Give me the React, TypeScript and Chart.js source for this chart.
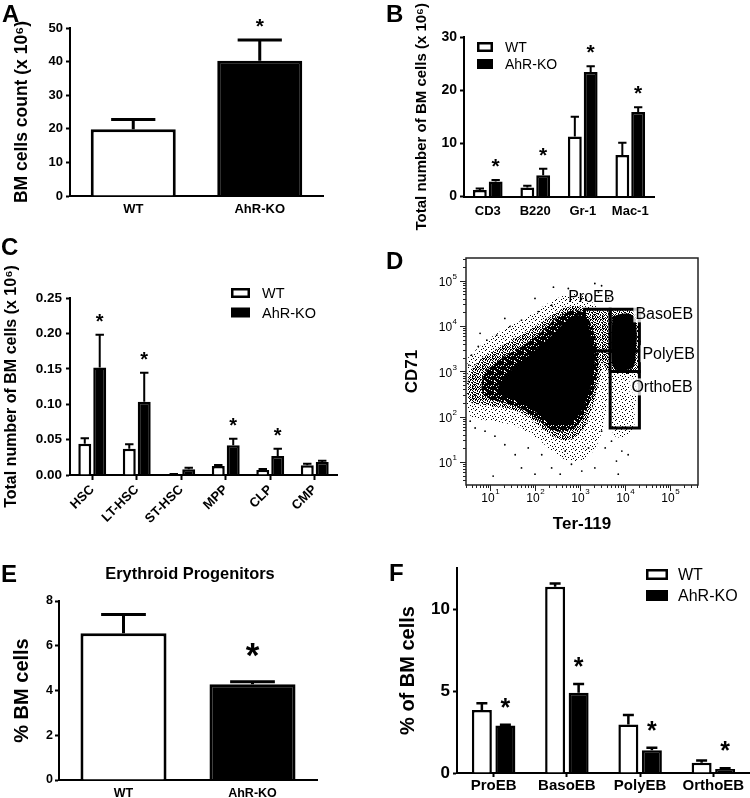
import React, { useEffect, useRef } from 'react';
import { Chart, registerables } from 'chart.js';

Chart.register(...registerables);

const FONT = '"Liberation Sans", Arial, Helvetica, sans-serif';
Chart.defaults.font.family = FONT;
Chart.defaults.color = '#000';

// ---------------- Panel A ----------------
const catsA = ['WT', 'AhR-KO'];
const meanA = [19.9, 40.25];
const errTopA = [22.8, 46.4];
const sigA = [false, true];
const ticksA = [0, 10, 20, 30, 40, 50];

// ---------------- Panel B ----------------
const catsB = ['CD3', 'B220', 'Gr-1', 'Mac-1'];
const wtB = [1.2, 1.7, 11.3, 7.8];
const wtErrTopB = [1.5, 2.0, 15.0, 10.1];
const koB = [2.8, 4.0, 23.4, 15.9];
const koErrTopB = [3.1, 5.2, 24.5, 16.8];
const sigB = [true, true, true, true];
const ticksB = [0, 10, 20, 30];

// ---------------- Panel C ----------------
const catsC = ['HSC', 'LT-HSC', 'ST-HSC', 'MPP', 'CLP', 'CMP'];
const wtC = [0.0442, 0.037, 0.001, 0.0127, 0.007, 0.0137];
const wtErrTopC = [0.0518, 0.0433, 0.0015, 0.014, 0.0085, 0.016];
const koC = [0.152, 0.1035, 0.008, 0.042, 0.0268, 0.0184];
const koErrTopC = [0.198, 0.1445, 0.0103, 0.0513, 0.037, 0.0202];
const sigC = [true, true, false, true, true, false];
const ticksC = [0, 0.05, 0.1, 0.15, 0.2, 0.25];

// ---------------- Panel D (log10 units) ----------------
const decadesD = [1, 2, 3, 4, 5];
const rangeXD = [0.467, 5.622];
const rangeYD = [0.492, 5.503];
const gateNames = ['ProEB', 'BasoEB', 'PolyEB', 'OrthoEB'];
const gateX = [[3.1, 3.67], [3.67, 4.32], [3.67, 4.32], [3.67, 4.32]];
const gateY = [[3.45, 4.37], [3.45, 4.37], [3.0, 3.45], [1.75, 3.0]];
const mainCoreD = [[1.2, 2.72], [1.5, 3.05], [1.95, 3.42], [2.4, 3.82], [2.72, 4.13], [2.98, 4.24], [3.15, 4.1], [3.25, 3.74], [3.33, 3.36], [3.28, 2.85], [3.15, 2.4], [2.96, 2.02], [2.7, 1.84], [2.41, 1.84], [2.1, 2.04], [1.72, 2.3], [1.4, 2.42], [1.18, 2.54], [1.2, 2.72]];
const denseCloudD = [[0.89, 3.0], [1.26, 3.29], [1.7, 3.55], [2.15, 3.88], [2.52, 4.21], [2.89, 4.35], [3.12, 4.25], [3.3, 3.88], [3.4, 3.36], [3.37, 2.85], [3.22, 2.34], [3.04, 1.93], [2.78, 1.71], [2.44, 1.69], [2.11, 1.9], [1.74, 2.15], [1.33, 2.3], [0.96, 2.41], [0.81, 2.63], [0.89, 3.0]];
const midCloudD = [[0.52, 2.92], [0.74, 3.22], [1.11, 3.47], [1.56, 3.73], [2.0, 3.99], [2.37, 4.24], [2.74, 4.42], [3.07, 4.39], [3.33, 4.02], [3.52, 3.58], [3.48, 3.07], [3.37, 2.56], [3.22, 2.04], [3.04, 1.68], [2.74, 1.49], [2.44, 1.55], [2.15, 1.75], [1.78, 2.04], [1.33, 2.19], [0.89, 2.26], [0.56, 2.34], [0.52, 2.92]];
const outerCloudD = [[0.5, 3.29], [0.81, 3.58], [1.26, 3.91], [1.78, 4.17], [2.22, 4.46], [2.67, 4.68], [3.04, 4.72], [3.33, 4.46], [3.59, 4.1], [3.67, 3.36], [3.63, 2.63], [3.56, 2.04], [3.44, 1.53], [3.22, 1.16], [2.89, 1.02], [2.59, 1.09], [2.3, 1.31], [1.93, 1.6], [1.48, 1.82], [1.04, 1.9], [0.67, 1.97], [0.5, 2.12], [0.5, 3.29]];
const eryTopD = [[3.1, 4.35], [3.7, 4.39], [4.15, 4.35], [4.28, 4.1], [4.28, 3.36], [4.26, 3.0], [3.67, 3.0], [3.48, 3.22], [3.26, 3.44], [3.13, 3.95], [3.1, 4.35]];
const orthoCloudD = [[3.67, 3.0], [4.26, 3.0], [4.22, 2.19], [4.15, 1.68], [3.78, 1.57], [3.69, 2.12], [3.67, 3.0]];
const basoCoreD = [[3.72, 4.21], [4.0, 4.28], [4.19, 4.21], [4.26, 3.88], [4.24, 3.44], [4.19, 3.11], [4.0, 3.03], [3.76, 3.07], [3.7, 3.44], [3.72, 4.21]];
const sparseD = [[2.41, 4.86], [3.33, 4.94], [3.48, 4.89], [3.41, 4.75], [2.37, 4.46], [2.07, 4.32], [1.7, 4.13], [1.44, 3.99], [1.15, 3.8], [0.93, 3.69], [0.74, 3.55], [0.59, 3.36], [0.53, 3.14], [4.37, 4.28], [4.33, 3.66], [4.37, 2.7], [3.7, 1.46], [3.93, 1.24], [3.81, 1.02], [3.85, 0.73], [3.56, 1.31], [3.33, 0.87], [3.04, 0.8], [2.81, 0.95], [2.56, 0.73], [2.37, 0.87], [2.15, 1.16], [1.85, 1.31], [1.56, 1.16], [1.33, 1.38], [1.11, 1.57], [0.89, 1.68], [0.67, 1.75], [0.56, 1.9], [1.07, 0.69], [1.7, 0.87], [2.0, 0.73], [2.67, 1.24], [3.19, 1.31], [3.48, 1.68], [4.07, 1.16], [0.67, 2.48], [0.52, 2.78], [0.78, 3.84], [1.33, 4.17], [2.74, 4.83], [3.04, 4.61], [3.63, 4.61], [2.0, 4.61]];

// ---------------- Panel E ----------------
const catsE = ['WT', 'AhR-KO'];
const meanE = [6.56, 4.28];
const errTopE = [7.4, 4.39];
const sigE = [false, true];
const ticksE = [0, 2, 4, 6, 8];

// ---------------- Panel F ----------------
const catsF = ['ProEB', 'BasoEB', 'PolyEB', 'OrthoEB'];
const wtF = [3.85, 11.4, 2.97, 0.62];
const wtErrTopF = [4.27, 11.6, 3.55, 0.76];
const koF = [2.91, 4.92, 1.4, 0.25];
const koErrTopF = [2.95, 5.45, 1.54, 0.29];
const sigF = [true, true, true, true];
const ticksF = [0, 5, 10];

const seriesNames = ['WT', 'AhR-KO'];

// speckle textures for the dot-plot density (style only)
const lightTile = [
  '#.........',
  '....#.....',
  '.......#..',
  '..#.......',
  '.........#',
  '.....#....',
  '#......#..',
  '...#......',
  '........#.',
  '.#....#...',
];
const medTile = [
  '#.#..#.#..',
  '..#.#...#.',
  '#...#.#..#',
  '.#.#...#..',
  '#..#.#..#.',
  '.#...#.#.#',
  '..#.#...#.',
  '#.#..#.#..',
  '.#..#..#.#',
  '#..#.#..#.',
];
const denseTile = [
  '##.###.##.',
  '.###.####.',
  '#.##.##.##',
  '##.####.#.',
  '.##.#.###.',
  '###.##.#.#',
  '#.###.##.#',
  '.##.###.##',
  '##.#.####.',
  '#.##.#.###',
];

function drawStar(ctx: CanvasRenderingContext2D, x: number, cy: number, size: number) {
  ctx.save();
  ctx.font = `bold ${size}px ${FONT}`;
  ctx.textAlign = 'center';
  ctx.textBaseline = 'alphabetic';
  ctx.fillStyle = '#000';
  ctx.fillText('*', x, cy + 0.575 * size);
  ctx.restore();
}

function buildBar(canvas: HTMLCanvasElement, s: any) {
  const padL = s.yTitleX - 0.6 * s.yTitleSize;
  const extras = {
    id: 'extras',
    afterDatasetsDraw(chart: any) {
      const ctx = chart.ctx;
      const ys = chart.scales.y;
      s.series.forEach((se: any, di: number) => {
        const meta = chart.getDatasetMeta(di);
        meta.data.forEach((el: any, j: number) => {
          const py = ys.getPixelForValue(se.err[j]);
          const w = el.width * s.capFrac;
          ctx.save();
          ctx.strokeStyle = '#000';
          ctx.lineWidth = s.errW;
          ctx.beginPath();
          ctx.moveTo(el.x, el.y);
          ctx.lineTo(el.x, py);
          ctx.moveTo(el.x - w / 2, py);
          ctx.lineTo(el.x + w / 2, py);
          ctx.stroke();
          ctx.restore();
          if (di === s.sigSeries && s.sig[j]) drawStar(ctx, el.x, py - s.starOff, s.starSize);
        });
      });
      if (s.legend) {
        const L = s.legend;
        seriesNames.forEach((name, i) => {
          const y = L.ys[i];
          ctx.save();
          ctx.fillStyle = i === 0 ? '#fff' : '#000';
          ctx.fillRect(L.x, y, L.boxW, L.boxH);
          if (i === 0) {
            ctx.strokeStyle = '#000';
            ctx.lineWidth = 2.5;
            ctx.strokeRect(L.x + 1.25, y + 1.25, L.boxW - 2.5, L.boxH - 2.5);
          }
          ctx.fillStyle = '#000';
          ctx.font = `${L.size}px ${FONT}`;
          ctx.textBaseline = 'middle';
          ctx.textAlign = 'left';
          ctx.fillText(name, L.textX, y + L.boxH / 2 + 1);
          ctx.restore();
        });
      }
      if (s.title) {
        const T = s.title;
        ctx.save();
        ctx.fillStyle = '#000';
        ctx.font = `bold ${T.size}px ${FONT}`;
        ctx.textAlign = 'center';
        ctx.textBaseline = 'middle';
        ctx.fillText(T.text, T.x, T.y);
        ctx.restore();
      }
    },
  };
  return new Chart(canvas, {
    type: 'bar',
    data: {
      labels: s.labels,
      datasets: s.series.map((se: any) => ({
        data: se.data,
        backgroundColor: se.color,
        borderColor: '#000',
        borderWidth: s.borderW,
        barPercentage: s.barPct,
        categoryPercentage: s.catPct,
      })),
    },
    options: {
      responsive: false,
      animation: false,
      devicePixelRatio: 1,
      layout: { padding: { left: padL, top: s.area.t, right: s.W - s.area.r, bottom: 0 } },
      plugins: { legend: { display: false }, tooltip: { enabled: false }, title: { display: false } },
      scales: {
        x: {
          z: 1,
          grid: { display: s.xTicks, drawOnChartArea: false, offset: false, tickLength: s.xTickLen || 4, tickWidth: 2, tickColor: '#000' },
          border: { display: true, color: '#000', width: 2 },
          ticks: { color: '#000', font: { size: s.xSize, weight: 'bold' }, padding: s.xPad, maxRotation: s.xRot, minRotation: s.xRot, autoSkip: false },
          afterFit: (sc: any) => { sc.height = s.H - s.area.b; },
        },
        y: {
          z: 1,
          min: 0,
          max: s.yMax,
          afterBuildTicks: (sc: any) => { sc.ticks = s.yTicks.map((v: number) => ({ value: v })); },
          grid: { display: true, drawOnChartArea: false, tickLength: 4, tickWidth: 2, tickColor: '#000' },
          border: { display: true, color: '#000', width: 2 },
          ticks: { color: '#000', font: { size: s.yTickSize, weight: 'bold' }, padding: s.yTickPad, callback: (v: any) => s.fmt(Number(v)) },
          title: { display: true, text: s.yTitle, color: '#000', font: { size: s.yTitleSize, weight: 'bold' }, padding: 0 },
          afterFit: (sc: any) => { sc.width = s.area.l - padL; },
        },
      },
    } as any,
    plugins: [extras],
  } as any);
}

function makePattern(canvas: HTMLCanvasElement, tile: string[]) {
  const c = document.createElement('canvas');
  c.width = tile[0].length;
  c.height = tile.length;
  const g = c.getContext('2d')!;
  g.fillStyle = '#000';
  tile.forEach((row, y) => {
    for (let x = 0; x < row.length; x++) if (row[x] === '#') g.fillRect(x, y, 1, 1);
  });
  return canvas.getContext('2d')!.createPattern(c, 'repeat')!;
}

const gateLabelStyle = [
  { ax: 'center', dx: -6, ay: 'top', dy: -7, bg: false },
  { ax: 'right', dx: -4, ay: 'top', dy: 10, bg: true },
  { ax: 'right', dx: 3, ay: 'mid', dy: -2, bg: true },
  { ax: 'right', dx: -8, ay: 'top', dy: 21, bg: true },
];

function buildD(canvas: HTMLCanvasElement) {
  const light = makePattern(canvas, lightTile);
  const med = makePattern(canvas, medTile);
  const dense = makePattern(canvas, denseTile);
  const toPts = (a: number[][]) => a.map(([x, y]) => ({ x, y }));
  const poly = (pts: number[][], bg: any, order: number) => ({
    data: toPts(pts), showLine: true, fill: 'shape', backgroundColor: bg,
    borderColor: 'rgba(0,0,0,0)', borderWidth: 0, pointRadius: 0, tension: 0.4, order,
  });
  const gates = gateNames.map((_, i) => {
    const [x0, x1] = gateX[i];
    const [y0, y1] = gateY[i];
    return {
      data: [{ x: x0, y: y0 }, { x: x1, y: y0 }, { x: x1, y: y1 }, { x: x0, y: y1 }, { x: x0, y: y0 }],
      showLine: true, fill: false, borderColor: '#000', borderWidth: 3, pointRadius: 0, tension: 0,
      borderJoinStyle: 'miter', borderCapStyle: 'square', order: 0,
    };
  });
  const extras = {
    id: 'dextras',
    afterDraw(chart: any) {
      const { ctx, chartArea: ca } = chart;
      const xs = chart.scales.x;
      const ys = chart.scales.y;
      ctx.save();
      gateNames.forEach((name, i) => {
        const st = gateLabelStyle[i];
        const gx0 = xs.getPixelForValue(gateX[i][0]);
        const gx1 = xs.getPixelForValue(gateX[i][1]);
        const gTop = ys.getPixelForValue(gateY[i][1]);
        const gBot = ys.getPixelForValue(gateY[i][0]);
        ctx.font = `16px ${FONT}`;
        const w = ctx.measureText(name).width;
        const left = st.ax === 'center' ? (gx0 + gx1) / 2 + st.dx - w / 2 : gx1 + st.dx;
        const base = st.ay === 'top' ? gTop + st.dy : (gTop + gBot) / 2 + st.dy;
        if (st.bg) {
          ctx.fillStyle = 'rgba(255,255,255,0.8)';
          ctx.fillRect(left - 2, base - 14, w + 4, 17);
        }
        ctx.fillStyle = '#000';
        ctx.textAlign = 'left';
        ctx.textBaseline = 'alphabetic';
        ctx.fillText(name, left, base);
      });
      ctx.strokeStyle = '#222';
      ctx.lineWidth = 1.5;
      ctx.strokeRect(ca.left, ca.top, ca.right - ca.left, ca.bottom - ca.top);
      ctx.lineWidth = 1;
      ctx.beginPath();
      for (let n = Math.floor(xs.min); n <= Math.ceil(xs.max); n++) {
        for (let k = 1; k <= 9; k++) {
          const v = n + Math.log10(k);
          if (v < xs.min || v > xs.max) continue;
          const px = Math.round(xs.getPixelForValue(v)) + 0.5;
          const len = k === 1 ? 6 : 3;
          ctx.moveTo(px, ca.bottom);
          ctx.lineTo(px, ca.bottom + len);
        }
      }
      for (let n = Math.floor(ys.min); n <= Math.ceil(ys.max); n++) {
        for (let k = 1; k <= 9; k++) {
          const v = n + Math.log10(k);
          if (v < ys.min || v > ys.max) continue;
          const py = Math.round(ys.getPixelForValue(v)) + 0.5;
          const len = k === 1 ? 6 : 3;
          ctx.moveTo(ca.left, py);
          ctx.lineTo(ca.left - len, py);
        }
      }
      ctx.stroke();
      ctx.fillStyle = '#000';
      ctx.textBaseline = 'middle';
      decadesD.forEach((d) => {
        const px = xs.getPixelForValue(d);
        ctx.font = `12px ${FONT}`;
        const w10 = ctx.measureText('10').width;
        ctx.textAlign = 'center';
        ctx.fillText('10', px - 2, ca.bottom + 14);
        ctx.font = `8px ${FONT}`;
        ctx.textAlign = 'left';
        ctx.fillText(String(d), px - 2 + w10 / 2 + 0.5, ca.bottom + 7);
        const py = ys.getPixelForValue(d);
        const we = ctx.measureText(String(d)).width;
        ctx.fillText(String(d), ca.left - 9 - we, py - 4);
        ctx.font = `12px ${FONT}`;
        ctx.textAlign = 'right';
        ctx.fillText('10', ca.left - 9 - we - 0.5, py + 2);
      });
      ctx.font = `bold 17px ${FONT}`;
      ctx.textAlign = 'center';
      ctx.textBaseline = 'middle';
      ctx.fillText('Ter-119', (ca.left + ca.right) / 2, ca.bottom + 39);
      ctx.save();
      ctx.translate(ca.left - 54, (ca.top + ca.bottom) / 2);
      ctx.rotate(-Math.PI / 2);
      ctx.fillText('CD71', 0, 0);
      ctx.restore();
      ctx.restore();
    },
  };
  return new Chart(canvas, {
    type: 'scatter',
    data: {
      datasets: [
        ...gates,
        { data: toPts(sparseD), pointRadius: 0.9, backgroundColor: '#000', borderColor: '#000', borderWidth: 0, showLine: false, order: 1 },
        poly(basoCoreD, '#000', 2),
        poly(mainCoreD, '#000', 3),
        poly(denseCloudD, dense, 4),
        poly(orthoCloudD, light, 5),
        poly(eryTopD, med, 6),
        poly(midCloudD, med, 7),
        poly(outerCloudD, light, 8),
      ],
    },
    options: {
      responsive: false,
      animation: false,
      devicePixelRatio: 1,
      layout: { padding: { left: 91, top: 8, right: 52, bottom: 45 } },
      plugins: { legend: { display: false }, tooltip: { enabled: false } },
      scales: {
        x: { type: 'linear', display: false, min: rangeXD[0], max: rangeXD[1] },
        y: { type: 'linear', display: false, min: rangeYD[0], max: rangeYD[1] },
      },
    } as any,
    plugins: [extras],
  } as any);
}

const specA = {
  W: 340, H: 230, area: { l: 70, t: 28, r: 323, b: 196 },
  labels: catsA, series: [{ data: meanA, err: errTopA, color: ['#fff', '#000'] }],
  sig: sigA, sigSeries: 0, yMax: 50, yTicks: ticksA, fmt: (v: number) => String(v),
  yTitle: 'BM cells count (x 10⁶)', yTitleSize: 17.5, yTitleX: 22, yTickSize: 13, yTickPad: 3,
  xSize: 13, xPad: 2, xTicks: false, xRot: 0, barPct: 0.672, catPct: 1, borderW: 3, errW: 3,
  capFrac: 0.52, starSize: 21, starOff: 19,
};
const specB = {
  W: 300, H: 240, area: { l: 89, t: 37, r: 279, b: 196.5 },
  labels: catsB, series: [{ data: wtB, err: wtErrTopB, color: '#fff' }, { data: koB, err: koErrTopB, color: '#000' }],
  sig: sigB, sigSeries: 1, yMax: 30, yTicks: ticksB, fmt: (v: number) => String(v),
  yTitle: 'Total number of BM cells (x 10⁶)', yTitleSize: 15, yTitleX: 46.5, yTickSize: 14, yTickPad: 3,
  xSize: 13, xPad: 3, xTicks: false, xRot: 0, barPct: 0.875, catPct: 0.667, borderW: 2.5, errW: 2,
  capFrac: 0.6, starSize: 21, starOff: 19,
  legend: { x: 102, ys: [42, 59], boxW: 16, boxH: 10, textX: 130, size: 14 },
};
const specC = {
  W: 375, H: 275, area: { l: 70, t: 48, r: 337, b: 225 },
  labels: catsC, series: [{ data: wtC, err: wtErrTopC, color: '#fff' }, { data: koC, err: koErrTopC, color: '#000' }],
  sig: sigC, sigSeries: 1, yMax: 0.25, yTicks: ticksC, fmt: (v: number) => v.toFixed(2),
  yTitle: 'Total number of BM cells (x 10⁶)', yTitleSize: 16, yTitleX: 11.5, yTickSize: 13.5, yTickPad: 4,
  xSize: 13, xPad: 2, xTicks: true, xTickLen: 5, xRot: 45, barPct: 0.867, catPct: 0.672, borderW: 2.5, errW: 2,
  capFrac: 0.65, starSize: 20, starOff: 18,
  legend: { x: 231, ys: [38, 57.5], boxW: 19, boxH: 10, textX: 262, size: 14.5 },
};
const specE = {
  W: 340, H: 273, area: { l: 59, t: 76, r: 317, b: 255 },
  labels: catsE, series: [{ data: meanE, err: errTopE, color: ['#fff', '#000'] }],
  sig: sigE, sigSeries: 0, yMax: 8, yTicks: ticksE, fmt: (v: number) => String(v),
  yTitle: '% BM cells', yTitleSize: 20, yTitleX: 22, yTickSize: 12.5, yTickPad: 2,
  xSize: 12.5, xPad: 2, xTicks: false, xRot: 0, barPct: 0.667, catPct: 1, borderW: 3, errW: 3,
  capFrac: 0.52, starSize: 35, starOff: 35,
  title: { text: 'Erythroid Progenitors', x: 190, y: 49, size: 16.4 },
};
const specF = {
  W: 375, H: 273, area: { l: 82, t: 43, r: 375, b: 248 },
  labels: catsF, series: [{ data: wtF, err: wtErrTopF, color: '#fff' }, { data: koF, err: koErrTopF, color: '#000' }],
  sig: sigF, sigSeries: 1, yMax: 12.55, yTicks: ticksF, fmt: (v: number) => String(v),
  yTitle: '% of BM cells', yTitleSize: 20, yTitleX: 33, yTickSize: 17, yTickPad: 3,
  xSize: 15, xPad: 0, xTicks: true, xTickLen: 4, xRot: 0, barPct: 0.85, catPct: 0.642, borderW: 2.5, errW: 2.5,
  capFrac: 0.55, starSize: 25, starOff: 23.5,
  legend: { x: 271, ys: [44, 65], boxW: 22, boxH: 11, textX: 303, size: 16 },
};

function ChartCanvas(props: { left: number; top: number; width: number; height: number; build: (c: HTMLCanvasElement) => Chart }) {
  const ref = useRef<HTMLCanvasElement>(null);
  const { left, top, width, height, build } = props;
  useEffect(() => {
    const chart = build(ref.current!);
    return () => chart.destroy();
  }, []);
  return <canvas ref={ref} width={width} height={height} style={{ position: 'absolute', left, top, width, height }} />;
}

const letterStyle = (left: number, top: number): React.CSSProperties => ({
  position: 'absolute', left, top, font: `bold 24px ${FONT}`, lineHeight: '24px', color: '#000',
});

export default function App() {
  return (
    <div style={{ position: 'absolute', left: 0, top: 0, width: 750, height: 798, background: '#fff', overflow: 'hidden' }}>
      <ChartCanvas left={0} top={0} width={specA.W} height={specA.H} build={(c) => buildBar(c, specA)} />
      <ChartCanvas left={375} top={0} width={specB.W} height={specB.H} build={(c) => buildBar(c, specB)} />
      <ChartCanvas left={0} top={250} width={specC.W} height={specC.H} build={(c) => buildBar(c, specC)} />
      <ChartCanvas left={375} top={250} width={375} height={280} build={(c) => buildD(c)} />
      <ChartCanvas left={0} top={525} width={specE.W} height={specE.H} build={(c) => buildBar(c, specE)} />
      <ChartCanvas left={375} top={525} width={specF.W} height={specF.H} build={(c) => buildBar(c, specF)} />
      <div style={letterStyle(2, 2)}>A</div>
      <div style={letterStyle(386, 2)}>B</div>
      <div style={letterStyle(1, 235)}>C</div>
      <div style={letterStyle(386, 249)}>D</div>
      <div style={letterStyle(1, 562)}>E</div>
      <div style={letterStyle(389, 561)}>F</div>
    </div>
  );
}
